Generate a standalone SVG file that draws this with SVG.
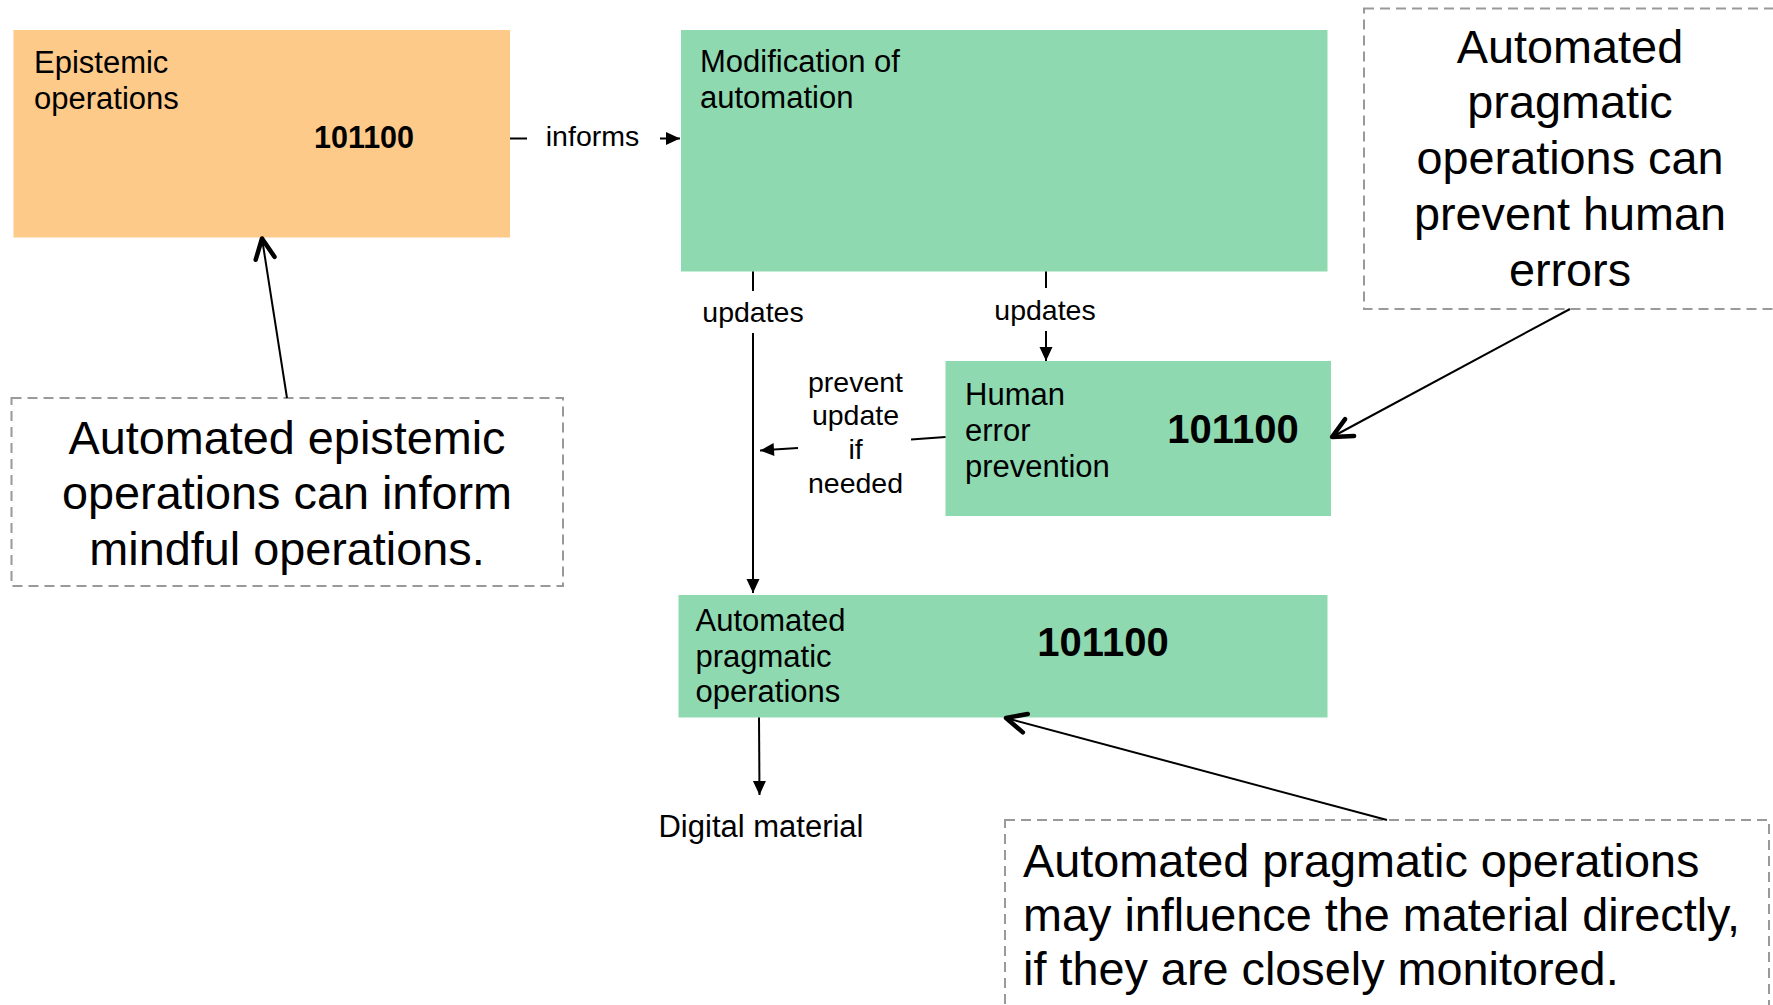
<svg xmlns="http://www.w3.org/2000/svg" width="1773" height="1005" viewBox="0 0 1773 1005">
  <style>
    text { font-family: "Liberation Sans", Arial, sans-serif; fill: #000; }
    .lbl { font-size: 28.5px; }
    .node { font-size: 31px; }
    .num { font-size: 40px; font-weight: bold; }
    .num-s { font-size: 30.5px; font-weight: bold; }
    .note { font-size: 46.8px; }
    .mid { text-anchor: middle; }
    .orange { fill: #FECA8A; }
    .green { fill: #8FD9B0; }
    .callout { fill: none; stroke: #999; stroke-width: 2; stroke-dasharray: 10 6; }
    .edge { fill: none; stroke: #000; stroke-width: 2; }
  </style>
  <defs>
    <marker id="solid" markerUnits="userSpaceOnUse" viewBox="-16 -9 18 18" refX="0" refY="0" markerWidth="18" markerHeight="18" orient="auto">
      <path d="M-14,-6.5 L0,0 L-14,6.5 Z" fill="#000"/>
    </marker>
    <marker id="open" markerUnits="userSpaceOnUse" viewBox="-26 -14 30 28" refX="0" refY="0" markerWidth="30" markerHeight="28" orient="auto">
      <path d="M-20,-9.5 L0,0 L-20,9.5" fill="none" stroke="#000" stroke-width="4.5" stroke-linecap="round" stroke-linejoin="round"/>
    </marker>
  </defs>

  <rect width="1773" height="1005" fill="#fff"/>

  <!-- nodes -->
  <g id="epistemic-operations">
    <rect class="orange" x="13.5" y="30" width="496.5" height="207.5"/>
    <text class="node" x="34" y="72.5">Epistemic</text>
    <text class="node" x="34" y="108.5">operations</text>
    <text class="num-s mid" x="364" y="147.5">101100</text>
  </g>

  <g id="modification-of-automation">
    <rect class="green" x="681" y="30" width="646.5" height="241.5"/>
    <text class="node" x="700" y="71.5">Modification of</text>
    <text class="node" x="700" y="107.5">automation</text>
  </g>

  <g id="human-error-prevention">
    <rect class="green" x="945.5" y="361" width="385.5" height="155"/>
    <text class="node" x="965" y="404.5">Human</text>
    <text class="node" x="965" y="441">error</text>
    <text class="node" x="965" y="477">prevention</text>
    <text class="num mid" x="1233" y="443">101100</text>
  </g>

  <g id="automated-pragmatic-operations">
    <rect class="green" x="678.5" y="595" width="649" height="122.5"/>
    <text class="node" x="695.5" y="631">Automated</text>
    <text class="node" x="695.5" y="667">pragmatic</text>
    <text class="node" x="695.5" y="702">operations</text>
    <text class="num mid" x="1103" y="656">101100</text>
  </g>

  <g id="digital-material">
    <text class="node mid" x="761" y="837">Digital material</text>
  </g>

  <!-- annotation boxes -->
  <g id="note-epistemic">
    <rect class="callout" x="11.5" y="398" width="551.5" height="188"/>
    <text class="note mid" x="287" y="454">Automated epistemic</text>
    <text class="note mid" x="287" y="509">operations can inform</text>
    <text class="note mid" x="287" y="565">mindful operations.</text>
  </g>

  <g id="note-human-errors">
    <rect class="callout" x="1364" y="8.5" width="430" height="300.5"/>
    <text class="note mid" x="1570" y="63">Automated</text>
    <text class="note mid" x="1570" y="118">pragmatic</text>
    <text class="note mid" x="1570" y="174">operations can</text>
    <text class="note mid" x="1570" y="230">prevent human</text>
    <text class="note mid" x="1570" y="286">errors</text>
  </g>

  <g id="note-material">
    <rect class="callout" x="1005" y="820" width="764" height="200"/>
    <text class="note" x="1023" y="877">Automated pragmatic operations</text>
    <text class="note" x="1023" y="931">may influence the material directly,</text>
    <text class="note" x="1023" y="985">if they are closely monitored.</text>
  </g>

  <!-- connectors -->
  <g id="connectors">
    <path class="edge" d="M510 138.5 H527 M660 138.5 H680" marker-end="url(#solid)"/>
    <text class="lbl mid" x="592.5" y="146">informs</text>

    <path class="edge" d="M753 271.5 V291 M753 333 V593" marker-end="url(#solid)"/>
    <text class="lbl mid" x="753" y="322">updates</text>

    <path class="edge" d="M1046 271.5 V288 M1046 331 V361" marker-end="url(#solid)"/>
    <text class="lbl mid" x="1045" y="320">updates</text>

    <path class="edge" d="M945.5 437 L911 439.5 M798 448 L760 450.5" marker-end="url(#solid)"/>
    <text class="lbl mid" x="855.5" y="392">prevent</text>
    <text class="lbl mid" x="855.5" y="425">update</text>
    <text class="lbl mid" x="855.5" y="459">if</text>
    <text class="lbl mid" x="855.5" y="493">needed</text>

    <path class="edge" d="M759 717.5 L759.5 795" marker-end="url(#solid)"/>

    <path class="edge" d="M287 398 L262 238.5" marker-end="url(#open)"/>
    <path class="edge" d="M1570 309 L1332 437" marker-end="url(#open)"/>
    <path class="edge" d="M1387 820 L1006 718" marker-end="url(#open)"/>
  </g>
</svg>
